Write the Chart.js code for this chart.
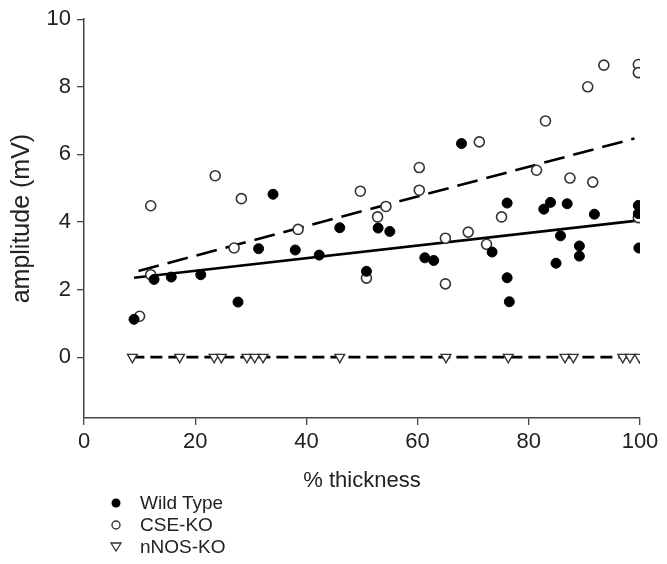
<!DOCTYPE html>
<html>
<head>
<meta charset="utf-8">
<script src="https://cdn.jsdelivr.net/npm/chart.js@4/dist/chart.umd.min.js"></script>
<style>
  html, body { margin: 0; padding: 0; background: #fff; }
  #wrap { position: relative; width: 667px; height: 564px; }
  #legend { position: absolute; left: 106px; top: 492px; font-family: 'Liberation Sans', Arial, sans-serif; font-size: 19px; color: #222; }
  .row { height: 22px; display: flex; align-items: center; }
  .row svg { width: 20px; height: 20px; margin-right: 14px; }
</style>
</head>
<body>
<div id="wrap">
  <canvas id="c" width="667" height="564"></canvas>
  <div id="legend"></div>
</div>
<script>
// ---- data ----
const xTicks = [0, 20, 40, 60, 80, 100];
const yTicks = [0, 2, 4, 6, 8, 10];
const seriesNames = ['Wild Type', 'CSE-KO', 'nNOS-KO'];

const wtX = [9.0, 12.6, 15.7, 21.0, 27.7, 31.4, 34.0, 38.0, 42.3, 46.0, 50.8, 52.9, 55.0, 61.3, 62.9, 67.9, 73.4, 76.1, 76.1, 76.5, 82.7, 83.9, 84.9, 85.7, 86.9, 89.1, 89.1, 91.8, 99.7, 99.7, 99.8];
const wtY = [1.12, 2.30, 2.37, 2.44, 1.63, 3.21, 4.82, 3.17, 3.02, 3.83, 2.54, 3.82, 3.72, 2.94, 2.86, 6.32, 3.11, 4.56, 2.35, 1.64, 4.38, 4.58, 2.78, 3.59, 4.54, 3.29, 2.99, 4.23, 4.49, 4.25, 3.23];

const cseX = [10.0, 12.0, 12.0, 23.6, 27.0, 28.3, 38.5, 49.7, 50.8, 52.8, 54.3, 60.3, 60.3, 65.0, 65.0, 69.1, 71.1, 72.4, 75.1, 81.4, 83.0, 87.4, 90.6, 91.5, 93.5, 99.7, 99.7, 99.7];
const cseY = [1.21, 2.44, 4.48, 5.37, 3.23, 4.69, 3.78, 4.91, 2.34, 4.15, 4.46, 5.61, 4.94, 3.52, 2.17, 3.70, 6.37, 3.34, 4.15, 5.53, 6.99, 5.30, 8.00, 5.18, 8.64, 8.66, 8.42, 4.13];

const nnosX = [8.7, 17.2, 23.4, 24.7, 29.3, 30.7, 32.2, 46.0, 65.1, 76.3, 86.5, 88.0, 96.9, 98.2, 99.9];
const nnosY = [0, 0, 0, 0, 0, 0, 0, 0, 0, 0, 0, 0, 0, 0, 0];

// regression lines (end points)
const wtFitX = [9.0, 99.5];
const wtFitY = [2.35, 4.04];
const cseFitX = [9.8, 99.0];
const cseFitY = [2.55, 6.47];
const nnosFitX = [8.7, 100];
const nnosFitY = [0, 0];

const yMin = -1.8, yMax = 10;

function pts(xs, ys) { return xs.map((x, i) => ({ x: x, y: ys[i] })); }

const FONT = "'Liberation Sans', Arial, sans-serif";
const AX = '#444';

new Chart(document.getElementById('c'), {
  type: 'scatter',
  data: {
    datasets: [
      { label: seriesNames[0], data: pts(wtX, wtY), pointStyle: 'circle', pointRadius: 5, backgroundColor: '#000', borderColor: '#000', borderWidth: 1, order: 1 },
      { label: seriesNames[1], data: pts(cseX, cseY), pointStyle: 'circle', pointRadius: 5, backgroundColor: '#fff', borderColor: '#333', borderWidth: 1.6, order: 1 },
      { label: seriesNames[2], data: pts(nnosX, nnosY), pointStyle: 'triangle', rotation: 180, pointRadius: 5.6, backgroundColor: '#fff', borderColor: '#333', borderWidth: 1.4, order: 1 },
      { label: 'wt fit', data: pts(wtFitX, wtFitY), showLine: true, pointRadius: 0, borderColor: '#000', borderWidth: 2.6, fill: false, order: 2 },
      { label: 'cse fit', data: pts(cseFitX, cseFitY), showLine: true, pointRadius: 0, borderColor: '#000', borderWidth: 2.6, borderDash: [21, 9], fill: false, order: 2 },
      { label: 'nnos fit', data: pts(nnosFitX, nnosFitY), showLine: true, pointRadius: 0, borderColor: '#000', borderWidth: 2.6, borderDash: [12, 6], fill: false, order: 2 }
    ]
  },
  options: {
    responsive: false,
    animation: false,
    layout: { padding: { left: 0, right: 27, top: 19, bottom: 0 } },
    plugins: { legend: { display: false }, tooltip: { enabled: false } },
    scales: {
      x: {
        type: 'linear', min: 0, max: 100,
        afterBuildTicks: s => { s.ticks = xTicks.map(v => ({ value: v })); },
        afterFit: s => { s.height = 146; },
        ticks: { font: { family: FONT, size: 22 }, color: '#222', padding: 4 },
        grid: { drawOnChartArea: false, drawTicks: true, tickLength: 7, color: AX, lineWidth: 1.3 },
        border: { display: true, color: AX, width: 1.5 },
        title: { display: true, text: '% thickness', font: { family: FONT, size: 22 }, color: '#222', padding: { top: 0, bottom: 70 } }
      },
      y: {
        type: 'linear', min: yMin, max: yMax,
        afterBuildTicks: s => { s.ticks = yTicks.map(v => ({ value: v })); },
        afterFit: s => { s.width = 84; },
        ticks: { font: { family: FONT, size: 22 }, color: '#222', padding: 6 },
        grid: { drawOnChartArea: false, drawTicks: true, tickLength: 7, color: AX, lineWidth: 1.3 },
        border: { display: true, color: AX, width: 1.5 },
        title: { display: true, text: 'amplitude (mV)', font: { family: FONT, size: 25 }, color: '#222', padding: { top: 7, bottom: 0 } }
      }
    }
  }
});

// legend (HTML, real text)
const markers = [
  '<svg viewBox="0 0 20 20"><circle cx="10" cy="10" r="4.5" fill="#000"/></svg>',
  '<svg viewBox="0 0 20 20"><circle cx="10" cy="10" r="4" fill="#fff" stroke="#333" stroke-width="1.4"/></svg>',
  '<svg viewBox="0 0 20 20"><polygon points="5,6 15,6 10,14" fill="#fff" stroke="#333" stroke-width="1.3"/></svg>'
];
const lg = document.getElementById('legend');
seriesNames.forEach((n, i) => {
  const r = document.createElement('div');
  r.className = 'row';
  r.innerHTML = markers[i] + '<span>' + n + '</span>';
  lg.appendChild(r);
});
</script>
</body>
</html>
